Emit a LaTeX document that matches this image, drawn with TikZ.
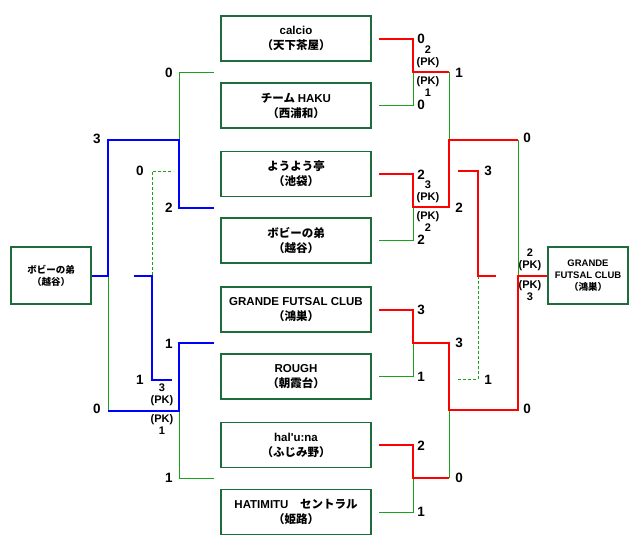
\documentclass[tikz,border=0pt]{standalone}
\usepackage{fontspec}
\setmainfont{Noto Sans CJK JP}
\newfontfamily\latf{Liberation Sans}
\definecolor{boxgreen}{HTML}{1E6B3C}
\definecolor{lgreen}{HTML}{1AA01A}
\definecolor{redc}{HTML}{FF0000}
\definecolor{bluec}{HTML}{0000FF}
\begin{document}
\begin{tikzpicture}[x=1pt,y=-1pt,
 team/.style={draw=boxgreen,line width=1.2pt,minimum width=150pt,minimum height=45pt,inner sep=0pt,align=center,font=\bfseries\fontsize{11.5}{15}\selectfont},
 smallbox/.style={draw=boxgreen,line width=1.2pt,minimum width=80pt,minimum height=57pt,inner sep=0pt,align=center,font=\bfseries\fontsize{9.5}{12}\selectfont},
 winr/.style={line width=2pt,draw=redc},
 winb/.style={line width=2pt,draw=bluec},
 lose/.style={line width=1pt,draw=lgreen},
 losed/.style={lose,dash pattern=on 3pt off 2pt},
 sc/.style={font=\latf\bfseries\fontsize{13.5}{13.5}\selectfont,inner sep=0pt},
 pk/.style={font=\latf\bfseries\fontsize{11}{12}\selectfont,inner sep=0pt,align=center},
]
\useasboundingbox (0,0) rectangle (640,550);

% team boxes
\node[team] (t1) at (296,38.5) {{\latf calcio}\\（天下茶屋）};
\node[team] (t2) at (296,105.5) {チーム {\latf HAKU}\\（西浦和）};
\node[team] (t3) at (296,174) {ようよう亭\\（池袋）};
\node[team] (t4) at (296,240.5) {ボビーの弟\\（越谷）};
\node[team] (t5) at (296,309.5) {{\latf GRANDE FUTSAL CLUB}\\（鴻巣）};
\node[team] (t6) at (296,376.5) {{\latf ROUGH}\\（朝霞台）};
\node[team] (t7) at (296,445) {{\latf hal\textquotesingle u:na}\\（ふじみ野）};
\node[team] (t8) at (296,512) {{\latf HATIMITU}　セントラル\\（姫路）};
\node[smallbox] (lw) at (51,275.5) {ボビーの弟\\（越谷）};
\node[smallbox] (rw) at (588,275.5) {{\latf GRANDE}\\{\latf FUTSAL CLUB}\\（鴻巣）};

% right side coordinates
\coordinate (r1) at (379,38.5);   \coordinate (r2) at (379,105.5);
\coordinate (r3) at (379,174);    \coordinate (r4) at (379,240.5);
\coordinate (r5) at (379,309.5);  \coordinate (r6) at (379,376.5);
\coordinate (r7) at (379,445);    \coordinate (r8) at (379,512);
\coordinate (ra) at (413,72);     \coordinate (rb) at (413,207);
\coordinate (rc) at (413,343);    \coordinate (rd) at (413,478);
\coordinate (re) at (449,140);    \coordinate (rf) at (449,410);
\coordinate (rg) at (518,276);
% left side coordinates
\coordinate (l1) at (214,72);     \coordinate (l2) at (214,208);
\coordinate (l3) at (214,343);    \coordinate (l4) at (214,478);
\coordinate (la) at (179,140);    \coordinate (lb) at (179,411);
\coordinate (lc) at (108,276);

% right bracket
\draw[lose] (r2) -| (ra);
\draw[lose] (r4) -| (rb);
\draw[lose] (r6) -| (rc);
\draw[lose] (r8) -| (rd);
\draw[lose] (ra -| re) -- (re);
\draw[lose] (rd -| rf) -- (rf);
\draw[lose] (re -| rg) -- (rg);
\draw[winr] (r1) -| (ra) -- (ra -| re);
\draw[winr] (r3) -| (rb) -- (rb -| re) -- (re) -- (re -| rg);
\draw[winr] (r7) -| (rd) -- (rd -| rf);
\draw[winr] (rw.west |- rg) -- (rg) -- (rg |- rf) -- (rf) -- (rf |- rc) -- (rc) -- (rc |- r5) -- (r5);
% right third place
\coordinate (t3a) at (458,171); \coordinate (t3b) at (478,276); \coordinate (t3c) at (458,379);
\draw[losed] (t3b) |- (t3c);
\draw[winr] (t3a) -| (t3b) -- ++(18,0);

% left bracket
\draw[lose] (l1) -| (la);
\draw[lose] (lc) -- (lc |- lb);
\draw[lose] (lb) |- (l4);
\draw[winb] (l2) -| (la) -| (lc) -- (lw.east |- lc);
\draw[winb] (lc |- lb) -- (lb) |- (l3);
% left third place
\coordinate (s1) at (171,171); \coordinate (s2) at (152,276); \coordinate (s3) at (172,380);
\draw[losed] (s1) -| (s2);
\draw[winb] (s2) ++(-18,0) -- (s2) |- (s3);

% scores right
\node[sc] at (421,39) {0};
\node[pk] at (428,57) {2\\(PK)};
\node[pk] at (428,87) {(PK)\\1};
\node[sc] at (421,105) {0};
\node[sc] at (459,73) {1};
\node[sc] at (421,175) {2};
\node[pk] at (428,192) {3\\(PK)};
\node[pk] at (428,222) {(PK)\\2};
\node[sc] at (421,240) {2};
\node[sc] at (459,208) {2};
\node[sc] at (421,310) {3};
\node[sc] at (459,343) {3};
\node[sc] at (421,377) {1};
\node[sc] at (421,446) {2};
\node[sc] at (459,478) {0};
\node[sc] at (421,512) {1};
\node[sc] at (527,138) {0};
\node[sc] at (527,409) {0};
\node[pk] at (530,260) {2\\(PK)};
\node[pk] at (530,291) {(PK)\\3};
\node[sc] at (488,171) {3};
\node[sc] at (488,380) {1};

% scores left
\node[sc] at (169,73) {0};
\node[sc] at (169,208) {2};
\node[sc] at (169,344) {1};
\node[sc] at (169,478) {1};
\node[sc] at (97,139) {3};
\node[sc] at (97,409) {0};
\node[sc] at (140,171) {0};
\node[sc] at (140,380) {1};
\node[pk] at (162,395) {3\\(PK)};
\node[pk] at (162,425) {(PK)\\1};
\end{tikzpicture}
\end{document}
